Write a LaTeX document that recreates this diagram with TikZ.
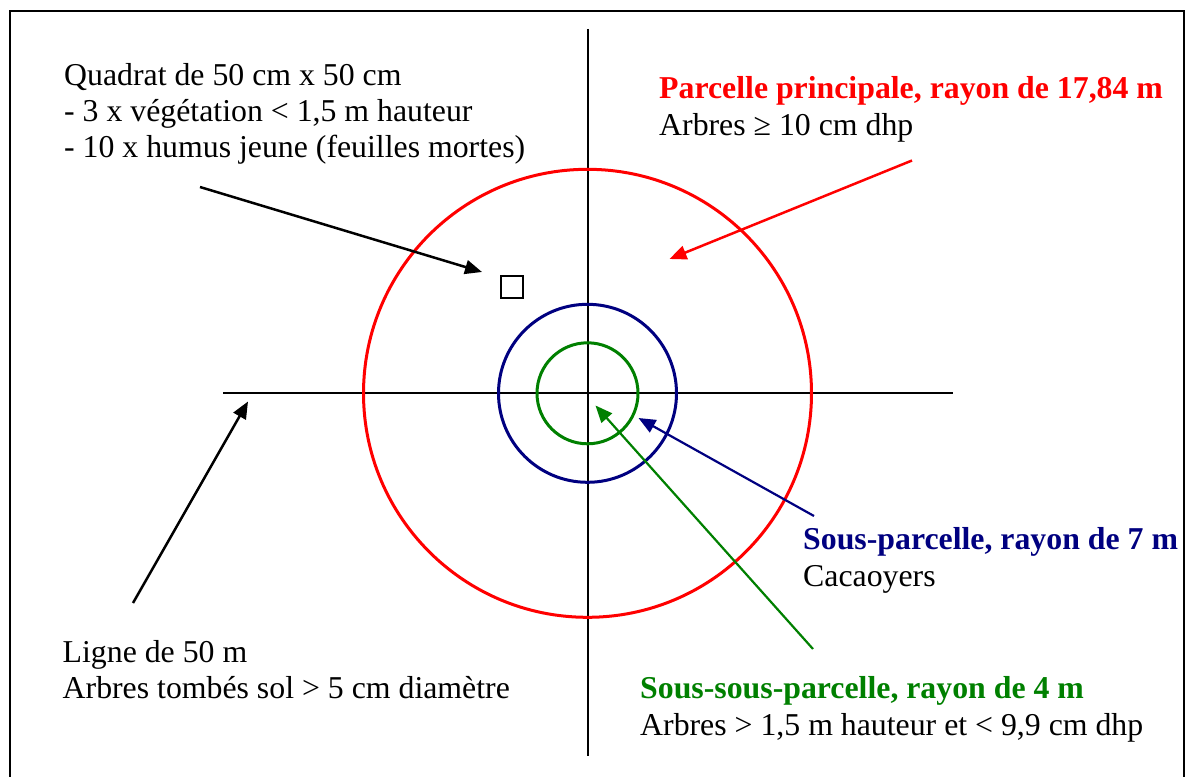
\documentclass[tikz,border=0pt]{standalone}
\usepackage{fontspec}
\setmainfont{Liberation Serif}
\usetikzlibrary{arrows.meta}
\definecolor{rd}{RGB}{255,0,0}
\definecolor{nv}{RGB}{0,0,128}
\definecolor{gr}{RGB}{0,128,0}
\begin{document}
\begin{tikzpicture}[x=1pt,y=-1pt,
  txt/.style={anchor=base west,inner sep=0pt,font=\fontsize{31.8}{36}\selectfont},
  btxt/.style={anchor=base west,inner sep=0pt,font=\fontsize{31.8}{36}\selectfont\bfseries},
  axisline/.style={line width=2pt},
  arr/.style={line width=2.5pt,-{Triangle[length=17pt,width=14pt]}},
  ring/.style={line width=3pt}]
\useasboundingbox (0,0) rectangle (1188,776);
\fill[white] (0,0) rectangle (1188,776);
% frame
\draw[line width=2pt] (9.5,790) -- (9.5,11) -- (1183.5,11) -- (1183.5,790);
% axes
\coordinate (c) at (587.5,393.3);
\coordinate (vt) at (587.5,29);
\coordinate (vb) at (587.5,756);
\coordinate (hl) at (223,393.3);
\coordinate (hr) at (953,393.3);
\draw[axisline] (vt) -- (vb);
\draw[axisline] (hl) -- (hr);
% circles
\draw[ring,rd] (c) circle[radius=224];
\draw[ring,nv] (c) circle[radius=89];
\draw[ring,gr] (c) circle[radius=50.5];
% quadrat square
\node[draw,line width=2pt,minimum size=22pt,inner sep=0pt] (sq) at (511.5,286.5) {};
% texts
\node[txt] (q1) at (64,85) {Quadrat de 50 cm x 50 cm};
\node[txt] (q2) at (64,121) {- 3 x végétation < 1,5 m hauteur};
\node[txt] (q3) at (64,157) {- 10 x humus jeune (feuilles mortes)};
\node[btxt,text=rd] (p1) at (659,98) {Parcelle principale, rayon de 17,84 m};
\node[txt] (p2) at (659,135) {Arbres ≥ 10 cm dhp};
\node[btxt,text=nv] (s1) at (803,549) {Sous-parcelle, rayon de 7 m};
\node[txt] (s2) at (803,586) {Cacaoyers};
\node[btxt,text=gr] (ss1) at (640,698) {Sous-sous-parcelle, rayon de 4 m};
\node[txt] (ss2) at (640,735) {Arbres > 1,5 m hauteur et < 9,9 cm dhp};
\node[txt] (l1) at (62.5,662) {Ligne de 50 m};
\node[txt] (l2) at (62.5,698) {Arbres tombés sol > 5 cm diamètre};
% arrow coordinates
\coordinate (qa) at (200,187);
\coordinate (qb) at (482,272);
\coordinate (ra) at (912,160.5);
\coordinate (rb) at (669.5,259);
\coordinate (ba) at (814,516);
\coordinate (bb) at (638.5,418);
\coordinate (ga) at (813,649);
\coordinate (gb) at (595.5,405.5);
\coordinate (la) at (133,603);
\coordinate (lb) at (248,401.5);
\draw[arr] (qa) -- (qb);
\draw[arr,rd] (ra) -- (rb);
\draw[arr,nv,line width=2.2pt] (ba) -- (bb);
\draw[arr,gr,line width=2.2pt] (ga) -- (gb);
\draw[arr] (la) -- (lb);
\end{tikzpicture}
\end{document}
